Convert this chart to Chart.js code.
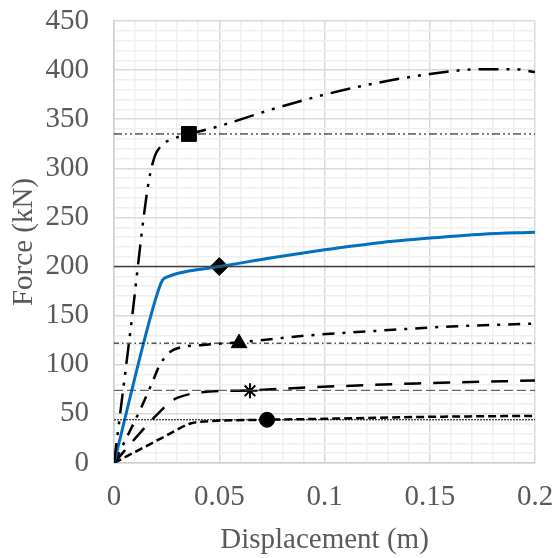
<!DOCTYPE html>
<html>
<head>
<meta charset="utf-8">
<script src="https://cdn.jsdelivr.net/npm/chart.js@4"></script>
<style>
  html, body { margin: 0; padding: 0; background: #fff; }
  #wrap { width: 555px; height: 558px; }
</style>
</head>
<body>
<div id="wrap"><canvas id="chart" width="555" height="558"></canvas></div>
<script>
// force-displacement curves (x in m, y in kN)
const curveSquare = [[0,0],[0.008,138],[0.016,280],[0.019,310],[0.023,324],[0.028,330],[0.036,335],[0.05,343],[0.075,360],[0.1,375],[0.125,387],[0.15,396],[0.175,401],[0.19,401],[0.2,398]];
const curveBlue = [[0,0],[0.0195,165],[0.023,186],[0.026,190],[0.03,193],[0.04,197],[0.05,200],[0.075,209],[0.1,217],[0.125,224],[0.15,229],[0.175,233],[0.2,235]];
const curveTriangle = [[0,0],[0.0124,54],[0.018,81],[0.0218,100],[0.0266,113],[0.032,118],[0.041,120],[0.06,123],[0.093,130],[0.128,135],[0.16,139],[0.2,142]];
const curveStar = [[0,0],[0.0185,45],[0.028,64],[0.031,67],[0.041,72],[0.065,74],[0.093,77],[0.144,81],[0.2,84]];
const curveCircle = [[0,0],[0.025,28],[0.036,40],[0.041,42],[0.073,44],[0.1,45],[0.15,47],[0.2,48]];

// yield levels (horizontal reference lines) and marked points
const refLevels = [335, 200, 122, 74, 44];
const markerPoints = [[0.0356,335],[0.05,200],[0.0594,122],[0.0646,73.5],[0.0727,44]];
const markerShapes = ['rect', 'rectRot', 'triangle', 'star', 'circle'];
const markerSizes = [10.5, 9, 9, 7.5, 7.5];

const xTicks = [0, 0.05, 0.1, 0.15, 0.2];
const yTicks = [0, 50, 100, 150, 200, 250, 300, 350, 400, 450];

const font = "'Liberation Serif', 'Times New Roman', serif";
const grey = '#595959';

const pts = arr => arr.map(p => ({x: p[0], y: p[1]}));

function curve(data, color, width, dash) {
  return {
    data: pts(data), showLine: true, borderColor: color, borderWidth: width,
    borderDash: dash, pointRadius: 0, cubicInterpolationMode: 'monotone', fill: false
  };
}

function refLine(level, color, width, dash) {
  return {
    data: [{x: 0, y: level}, {x: 0.2, y: level}], showLine: true,
    borderColor: color, borderWidth: width, borderDash: dash, pointRadius: 0, fill: false
  };
}

const datasets = [
  refLine(refLevels[0], '#000', 1, [8, 3, 2, 3, 2, 3]),
  refLine(refLevels[1], '#404040', 1.5, []),
  refLine(refLevels[2], '#000', 1, [5, 3, 1.5, 3]),
  refLine(refLevels[3], '#404040', 1, [9, 4]),
  refLine(refLevels[4], '#000', 1, [2, 1]),
  curve(curveSquare, '#000', 2.5, [20, 8, 3, 8, 3, 8]),
  curve(curveBlue, '#0070c0', 3, []),
  curve(curveTriangle, '#000', 2.5, [12, 8, 3, 8]),
  curve(curveStar, '#000', 2.5, [17, 12]),
  curve(curveCircle, '#000', 2.5, [8, 4])
];

markerPoints.forEach((p, i) => {
  datasets.push({
    data: [{x: p[0], y: p[1]}], showLine: false,
    pointStyle: markerShapes[i], pointRadius: markerSizes[i],
    pointBackgroundColor: '#000', pointBorderColor: '#000',
    pointBorderWidth: markerShapes[i] === 'star' ? 2 : 1
  });
});

const isMajor = (v, step) => Math.abs(v / step - Math.round(v / step)) < 1e-6;

new Chart(document.getElementById('chart'), {
  type: 'scatter',
  data: { datasets: datasets },
  options: {
    responsive: false,
    animation: false,
    layout: { padding: { left: 0, right: 20, top: 21, bottom: 0 } },
    plugins: { legend: { display: false }, tooltip: { enabled: false } },
    scales: {
      x: {
        type: 'linear', min: 0, max: 0.2,
        afterFit: s => { s.height = 95; s.paddingLeft = 0; s.paddingRight = 0; },
        ticks: {
          stepSize: 0.01, autoSkip: false, maxRotation: 0, padding: 17,
          color: grey, font: { family: font, size: 29 },
          callback: v => (xTicks.some(t => Math.abs(t - v) < 1e-9) ? String(+v.toFixed(2)) : '')
        },
        grid: {
          drawTicks: false, lineWidth: 1.5,
          color: c => (isMajor(c.tick.value, 0.05) ? '#d9d9d9' : '#efefef')
        },
        border: { color: '#d0d0d0', width: 1.5 },
        title: {
          display: true, text: 'Displacement (m)', color: grey,
          font: { family: font, size: 29 }, padding: { top: 0, bottom: 0 }
        }
      },
      y: {
        type: 'linear', min: 0, max: 450,
        afterFit: s => { s.width = 114; s.paddingTop = 0; s.paddingBottom = 0; },
        ticks: {
          stepSize: 10, autoSkip: false, padding: 25,
          color: grey, font: { family: font, size: 29 },
          callback: v => (yTicks.includes(Math.round(v)) && isMajor(v, 50) ? String(Math.round(v)) : '')
        },
        grid: {
          drawTicks: false, lineWidth: 1.5,
          color: c => (isMajor(c.tick.value, 50) ? '#d9d9d9' : '#efefef')
        },
        border: { color: '#d0d0d0', width: 1.5 },
        title: {
          display: true, text: 'Force (kN)', color: grey,
          font: { family: font, size: 29 }, padding: { top: 7, bottom: 0 }
        }
      }
    }
  }
});
</script>
</body>
</html>
